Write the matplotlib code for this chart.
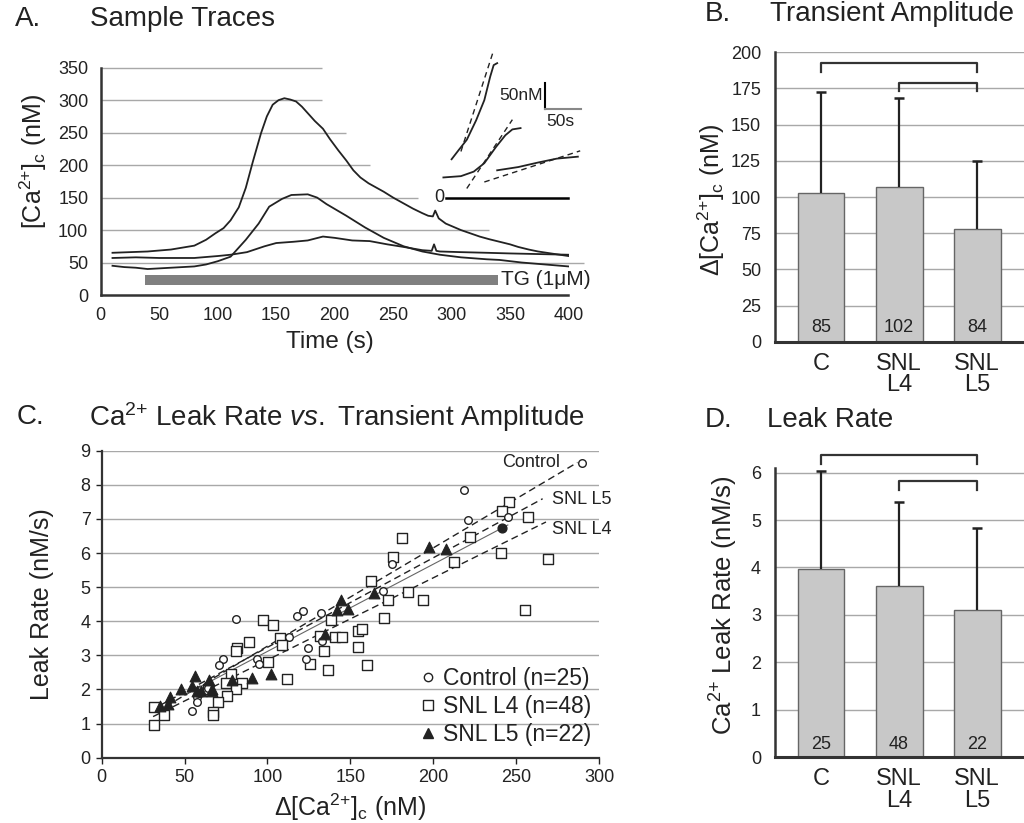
import numpy as np
import matplotlib
matplotlib.use("Agg")
import matplotlib.pyplot as plt
from matplotlib.lines import Line2D

plt.rcParams['font.family'] = ['Liberation Sans', 'DejaVu Sans']
plt.rcParams['mathtext.fontset'] = 'custom'
plt.rcParams['mathtext.rm'] = 'Liberation Sans'
plt.rcParams['mathtext.it'] = 'Liberation Sans:italic'
plt.rcParams['mathtext.default'] = 'regular'

# ---------------- Panel A data ----------------
t_large = [10, 25, 40, 60, 80, 90, 98, 105, 111, 118, 124, 130, 137, 142, 147, 152, 157, 162, 167, 172,
           177, 183, 190, 196, 203, 210, 216, 222, 229, 236, 242, 250, 259, 267, 275, 280, 284, 286, 289,
           295, 308, 316, 324, 332, 341, 350, 357, 366, 374, 385, 400]
ca_large = [65, 66, 67, 70, 76, 85, 95, 103, 115, 135, 165, 205, 249, 275, 293, 300, 303, 301, 298, 290,
            280, 268, 256, 240, 223, 207, 192, 181, 172, 165, 159, 150, 141, 133, 126, 122, 121, 130, 118,
            110, 100, 95, 90, 86, 82, 78, 74, 70, 67, 64, 60]
t_medium = [10, 20, 30, 40, 60, 80, 90, 100, 111, 124, 135, 144, 155, 163, 177, 185, 193, 210, 226, 242,
            259, 275, 290, 308, 330, 341, 360, 380, 400]
ca_medium = [45, 43, 42, 40, 42, 44, 47, 52, 59, 85, 110, 136, 148, 154, 155, 150, 140, 122, 104, 88,
             75, 67, 62, 58, 55, 54, 50, 47, 44]
t_small = [10, 30, 50, 80, 100, 111, 125, 140, 150, 165, 177, 190, 200, 215, 230, 245, 259, 275, 283, 285,
           287, 290, 308, 330, 350, 375, 400]
ca_small = [57, 58, 57, 57, 60, 62, 66, 75, 80, 82, 84, 90, 88, 84, 83, 78, 74, 69, 68, 78,
            68, 67, 66, 65, 64, 63, 62]
tg_start, tg_end, tg_level, tg_height = 38, 340, 23.5, 15
grid_levels_A = [50, 100, 150, 200, 250, 300, 350]
grid_ends_A = [413, 332, 271, 230, 210, 189, 189]

# inset traces (drawn in panel A coordinates)
ins_t1 = [300, 306, 313, 321, 328, 333, 336, 339]
ins_v1 = [209, 223, 239, 269, 300, 336, 354, 357]
ins_fit1_t = [308, 336]
ins_fit1_v = [221, 377]
ins_t2 = [293, 308, 319, 328, 338, 346, 352, 359]
ins_v2 = [181, 183, 190, 203, 228, 246, 255, 257]
ins_fit2_t = [313, 352]
ins_fit2_v = [164, 270]
ins_t3 = [339, 357, 374, 390, 408]
ins_v3 = [192, 197, 204, 210, 213]
ins_fit3_t = [328, 410]
ins_fit3_v = [174, 222]
ins_zero_t = [295, 400]
ins_zero_v = [150, 150]
scale_t = [380, 380, 411]
scale_v = [326, 287, 287]

# ---------------- Panel B / D data ----------------
groups = ['C', 'SNL\nL4', 'SNL\nL5']
amp_mean = [102.7, 107.1, 77.6]
amp_err_top = [172.5, 168.6, 124.6]
amp_n = ['85', '102', '84']
leak_mean = [3.97, 3.60, 3.11]
leak_err_top = [6.04, 5.39, 4.84]
leak_n = ['25', '48', '22']

# ---------------- Panel C data ----------------
ctrl_x = [289.5, 218.5, 220.7, 245.3, 174.9, 169.9, 121.2, 117.6, 132.1, 80.8, 112.8, 124.6, 123.2,
          133.1, 93.5, 94.9, 73.4, 71.0, 54.5, 57.7, 57.7, 64.3, 58.5]
ctrl_y = [8.65, 7.85, 6.97, 7.07, 5.67, 4.89, 4.31, 4.16, 4.24, 4.06, 3.54, 3.22, 2.90,
          3.41, 2.89, 2.75, 2.89, 2.73, 1.36, 1.77, 1.63, 2.04, 1.90]
l4_x = [245.7, 241.7, 256.9, 222.2, 180.9, 240.6, 269.0, 175.9, 212.7, 162.4, 184.6, 193.6, 172.5,
        255.5, 170.5, 138.1, 97.5, 103.5, 154.8, 156.8, 140.7, 144.8, 131.7, 107.6, 108.6, 89.1,
        81.8, 80.8, 100.1, 134.3, 154.4, 125.7, 136.3, 159.8, 111.6, 84.4, 78.0, 75.0, 80.8, 75.4,
        70.0, 67.0, 67.3, 31.8, 37.6, 31.8, 64.3]
l4_y = [7.49, 7.24, 7.07, 6.46, 6.43, 6.01, 5.82, 5.87, 5.75, 5.17, 4.85, 4.61, 4.63,
        4.34, 4.11, 4.04, 4.03, 3.90, 3.72, 3.78, 3.53, 3.53, 3.58, 3.51, 3.29, 3.39,
        3.21, 3.13, 2.81, 3.12, 3.24, 2.76, 2.56, 2.73, 2.31, 2.19, 2.46, 2.19, 2.00, 1.80,
        1.63, 1.35, 1.25, 1.49, 1.24, 0.95, 2.00]
l5_x = [197.4, 207.5, 164.0, 144.4, 141.7, 148.8, 134.7, 101.9, 90.9, 78.4, 66.7, 64.7, 56.3,
        54.3, 57.3, 47.6, 41.2, 40.2, 35.2, 59.9, 66.3]
l5_y = [6.17, 6.12, 4.84, 4.61, 4.34, 4.36, 3.64, 2.46, 2.34, 2.27, 2.00, 2.29, 2.39,
        2.10, 1.95, 2.02, 1.78, 1.56, 1.51, 1.96, 1.97]
overlap_x = [241.3]
overlap_y = [6.73]

fit_names = ['Control', 'SNL L5', 'SNL L4']
fit_slope = [0.0288, 0.02624, 0.02407]
fit_icpt = [0.39, 0.612, 0.459]
fit_xmin = [33, 35, 31]
fit_xmax = [287, 266, 268]
fit_label_x = [241.3, 271.4, 271.4]
fit_label_y = [8.65, 7.58, 6.68]
pooled_slope, pooled_icpt, pooled_range = 0.02556, 0.56, (50, 245)

CA = 'Ca$^{2{+}}$'

# ---------------- Figure ----------------
W, H = 1024, 823
fig = plt.figure(figsize=(W / 100, H / 100), dpi=100)

def rect(l, r, b, t):
    return [l / W, 1 - b / H, (r - l) / W, (b - t) / H]

spine_col = '#333333'
grid_col = '#a8a8a8'
ink = '#222222'

# ---- Panel A ----
axA = fig.add_axes(rect(100.8, 568.5, 295, 67.7))
axA.set_xlim(0, 400)
axA.set_ylim(0, 350)
axA.hlines(grid_levels_A, 0, grid_ends_A, colors=grid_col, lw=1.0, zorder=0, clip_on=False)
axA.plot(t_large, ca_large, color=ink, lw=1.3)
axA.plot(t_medium, ca_medium, color=ink, lw=1.3)
axA.plot(t_small, ca_small, color=ink, lw=1.3)
axA.barh([tg_level], [tg_end - tg_start], left=tg_start, height=tg_height, color='#808080')
axA.text(tg_end + 2, tg_level, 'TG (1μM)', fontsize=15, va='center', ha='left', color=ink)
# inset
for tt, vv, ft, fv in [(ins_t1, ins_v1, ins_fit1_t, ins_fit1_v),
                       (ins_t2, ins_v2, ins_fit2_t, ins_fit2_v),
                       (ins_t3, ins_v3, ins_fit3_t, ins_fit3_v)]:
    axA.plot(tt, vv, color=ink, lw=1.3, clip_on=False)
    axA.plot(ft, fv, color=ink, lw=1.0, ls=(0, (4, 3)), clip_on=False)
axA.plot(ins_zero_t, ins_zero_v, color='black', lw=1.8, clip_on=False)
axA.text(ins_zero_t[0] - 1, ins_zero_v[0], '0', fontsize=13, ha='right', va='center', color=ink)
axA.plot(scale_t[:2], scale_v[:2], color='black', lw=1.5, clip_on=False)
axA.plot(scale_t[1:], scale_v[1:], color='#888888', lw=1.5, clip_on=False)
axA.text(scale_t[0] - 2, (scale_v[0] + scale_v[1]) / 2, '50nM', fontsize=12.5, ha='right', va='center', color=ink)
axA.text(scale_t[0] + 1, scale_v[1] - 8, '50s', fontsize=12.5, ha='left', va='top', color=ink)
axA.set_xticks(np.arange(0, 401, 50))
axA.set_yticks(np.arange(0, 351, 50))
axA.tick_params(length=0, labelsize=13, pad=9, colors=ink)
for s in ['top', 'right']:
    axA.spines[s].set_visible(False)
for s in ['left', 'bottom']:
    axA.spines[s].set_color(spine_col)
    axA.spines[s].set_linewidth(1.8)
axA.set_xlabel('Time (s)', fontsize=17.5, color=ink)
axA.xaxis.set_label_coords(0.49, -0.207)
axA.xaxis.label.set_va('center')
axA.set_ylabel('[' + CA + ']$_c$ (nM)', fontsize=18, color=ink)
axA.yaxis.set_label_coords(-0.1435, 0.586)
axA.yaxis.label.set_va('center')

# ---- Bar panels ----
def bar_panel(ax, means, tops, ns, ymax, yticks, n_y, brackets):
    x = np.arange(len(groups))
    ax.set_xlim(-0.59, 2.6)
    ax.set_ylim(0, ymax)
    ax.set_yticks(yticks)
    ax.grid(axis='y', color=grid_col, lw=1.0, zorder=0)
    ax.set_axisbelow(True)
    ax.bar(x, means, width=0.6, color='#c8c8c8', edgecolor='#666666', lw=1.0, zorder=2)
    ax.vlines(x, means, tops, colors=ink, lw=1.6, zorder=3)
    ax.plot(x, tops, ls='none', marker='_', ms=7, mew=1.8, color=ink, zorder=3)
    for xi, n in zip(x, ns):
        ax.text(xi, n_y, n, ha='center', va='center', fontsize=13, color=ink, zorder=4)
    for (a, b, top, leg) in brackets:
        ax.plot([a, a, b, b], [leg, top, top, leg], color=spine_col, lw=1.6, clip_on=False, zorder=4)
    ax.set_xticks(x)
    ax.set_xticklabels(groups, fontsize=17, linespacing=0.95, color=ink)
    ax.tick_params(axis='x', length=0, pad=8)
    ax.tick_params(axis='y', length=0, labelsize=13, pad=10, colors=ink)
    for s in ['top', 'right']:
        ax.spines[s].set_visible(False)
    ax.spines['left'].set_color(spine_col)
    ax.spines['left'].set_linewidth(1.8)
    ax.spines['bottom'].set_color(spine_col)
    ax.spines['bottom'].set_linewidth(2.2)

axB = fig.add_axes(rect(775, 1024, 341.7, 52.3))
bar_panel(axB, amp_mean, amp_err_top, amp_n, 200, np.arange(0, 201, 25), 9.5,
          [(0, 2, 192.4, 186.6), (1, 2, 178.6, 173.3)])
axB.set_ylabel('Δ[' + CA + ']$_c$ (nM)', fontsize=18, color=ink)
axB.yaxis.set_label_coords(-0.257, 0.488)
axB.yaxis.label.set_va('center')

axD = fig.add_axes(rect(775, 1024, 757.3, 468.3))
bar_panel(axD, leak_mean, leak_err_top, leak_n, 6.09, np.arange(0, 7, 1), 0.28,
          [(0, 2, 6.37, 6.18), (1, 2, 5.83, 5.64)])
axD.set_ylabel(CA + ' Leak Rate (nM/s)', fontsize=18.5, color=ink)
axD.yaxis.set_label_coords(-0.205, 0.525)
axD.yaxis.label.set_va('center')

# ---- Panel C ----
axC = fig.add_axes(rect(101.7, 599, 757.7, 450.7))
axC.set_xlim(0, 300)
axC.set_ylim(0, 9)
axC.set_xticks(np.arange(0, 301, 50))
axC.set_yticks(np.arange(0, 10, 1))
axC.grid(axis='y', color=grid_col, lw=1.0, zorder=0)
axC.set_axisbelow(True)
for k in range(3):
    xs = np.array([fit_xmin[k], fit_xmax[k]])
    axC.plot(xs, fit_icpt[k] + fit_slope[k] * xs, color=ink, lw=1.0, ls=(0, (5, 3)), zorder=2)
    axC.text(fit_label_x[k], fit_label_y[k], fit_names[k],
             fontsize=13, ha='left', va='center', color=ink)
xs = np.array(pooled_range)
axC.plot(xs, pooled_icpt + pooled_slope * xs, color='#666666', lw=0.8, zorder=2)
axC.scatter(l4_x, l4_y, marker='s', s=50, facecolor='white', edgecolor=ink, lw=1.0, zorder=3)
axC.scatter(ctrl_x, ctrl_y, marker='o', s=30, facecolor='white', edgecolor=ink, lw=1.0, zorder=4)
axC.scatter(l5_x, l5_y, marker='^', s=60, facecolor=ink, edgecolor=ink, lw=0.8, zorder=5)
axC.scatter(overlap_x, overlap_y, marker='o', s=40, facecolor=ink, edgecolor=ink, zorder=5)
handles = [Line2D([], [], ls='none', marker='o', ms=6, mfc='white', mec=ink, mew=1.0),
           Line2D([], [], ls='none', marker='s', ms=7, mfc='white', mec=ink, mew=1.0),
           Line2D([], [], ls='none', marker='^', ms=7.5, mfc=ink, mec=ink)]
labels = ['Control (n=25)', 'SNL L4 (n=48)', 'SNL L5 (n=22)']
leg = axC.legend(handles, labels, loc='center left', bbox_to_anchor=(192.9, 1.5),
                 bbox_transform=axC.transData, frameon=False, fontsize=16.5,
                 handlelength=0.6, handletextpad=0.35, labelspacing=0.2,
                 borderpad=0, borderaxespad=0)
for t in leg.get_texts():
    t.set_color(ink)
axC.tick_params(length=4, width=1.0, labelsize=13, pad=4, colors=ink)
for s in ['top', 'right']:
    axC.spines[s].set_visible(False)
for s in ['left', 'bottom']:
    axC.spines[s].set_color(spine_col)
    axC.spines[s].set_linewidth(1.6)
axC.set_xlabel('Δ[' + CA + ']$_c$ (nM)', fontsize=18, color=ink)
axC.xaxis.set_label_coords(0.5, -0.16)
axC.xaxis.label.set_va('center')
axC.set_ylabel('Leak Rate (nM/s)', fontsize=18, color=ink)
axC.yaxis.set_label_coords(-0.121, 0.5)
axC.yaxis.label.set_va('center')

# ---- Panel titles ----
def title(xl, xt, yc, letter, text):
    fig.text(xl / W, 1 - yc / H, letter, fontsize=20, ha='left', va='center', color=ink)
    fig.text(xt / W, 1 - yc / H, text, fontsize=20, ha='left', va='center', color=ink)

title(15, 90, 19, 'A.', 'Sample Traces')
title(705, 770, 14, 'B.', 'Transient Amplitude')
title(17, 89, 417, 'C.', CA + ' Leak Rate $\\mathit{vs.}$ Transient Amplitude')
title(705, 767, 420, 'D.', 'Leak Rate')

fig.savefig('out.png', dpi=100, facecolor='white')
